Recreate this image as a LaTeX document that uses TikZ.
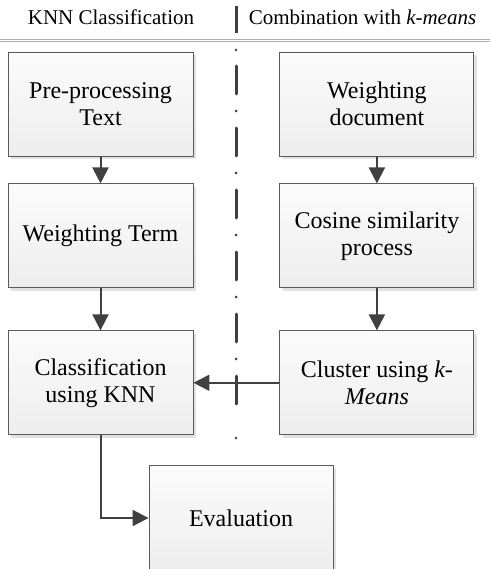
\documentclass[tikz,border=0pt]{standalone}
\usepackage{fontspec}
\setmainfont{Liberation Serif}
\usetikzlibrary{arrows.meta,positioning,shadows}
\tikzset{every picture/.style={line width=0.75pt}}
\definecolor{flowgray}{HTML}{404040}
\definecolor{rimgray}{HTML}{5A5A5A}

\begin{document}
\begin{tikzpicture}[x=1pt,y=1pt,
    procbox/.style={draw=rimgray, line width=0.9pt, top color=gray!3, bottom color=gray!14,
        minimum width=185pt, minimum height=104pt, align=center, inner sep=2pt,
        font=\fontsize{24}{27}\selectfont,
        drop shadow={shadow xshift=3pt, shadow yshift=-3pt, fill=gray!45, opacity=0.5}},
    widebox/.style={procbox, minimum width=194pt},
    flow/.style={draw=flowgray, line width=2pt, -{Triangle[length=16pt,width=16pt]}},
    headtext/.style={anchor=base, font=\fontsize{21}{24}\selectfont}]
    \useasboundingbox (0,0) rectangle (490,-569);
    % header
    \node[headtext] (knnhead) at (111,-25) {KNN Classification};
    \node[headtext] (combhead) at (362.5,-25) {Combination with \textit{k-means}};
    \draw[gray!65, line width=0.8pt, double=white, double distance=1.6pt] (0,-40.7) -- (490,-40.7);
    \draw[flowgray, line width=3pt] (236,-6) -- (236,-33);
    \draw[flowgray, line width=3pt, line cap=round, dash pattern=on 28pt off 17pt on 0pt off 17pt]
        (236,-66) -- (236,-420);
    \fill[flowgray] (236,-50) circle (1.4pt) (236,-438) circle (1.4pt);
    % left column
    \node[procbox] (pretext) at (100.5,-104) {Pre-processing\\Text};
    \node[procbox, below=27pt of pretext] (wterm) {Weighting Term};
    \node[procbox, below=42pt of wterm] (classify) {Classification\\using KNN};
    % right column
    \node[widebox, right=86pt of pretext] (wdoc) {Weighting\\document};
    \node[widebox, below=27pt of wdoc] (cosine) {Cosine similarity\\process};
    \node[widebox, below=42pt of cosine] (cluster) {Cluster using \textit{k-}\\\textit{Means}};
    % evaluation
    \node[procbox, minimum width=184pt, minimum height=106pt] (evalbox) at (241,-518) {Evaluation};
    \draw[flow] (pretext) -- (wterm);
    \draw[flow] (wterm) -- (classify);
    \draw[flow] (wdoc) -- (cosine);
    \draw[flow] (cosine) -- (cluster);
    \draw[flow] (cluster.west) -- (classify.east);
    \draw[flow] (classify.south) |- (evalbox.west);
\end{tikzpicture}
\end{document}
